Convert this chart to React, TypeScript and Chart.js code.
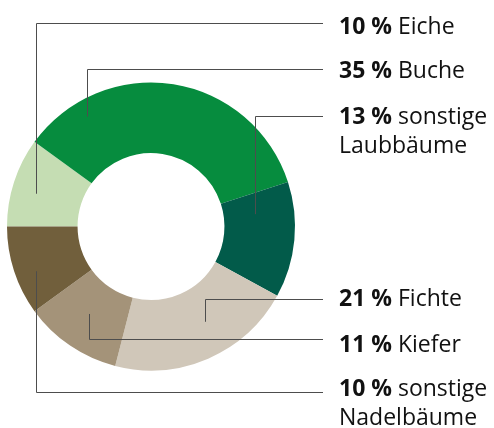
import React, { useEffect, useRef } from "react";
import { Chart, registerables } from "chart.js";

Chart.register(...registerables);

const categories = ["Eiche", "Buche", "sonstige Laubbäume", "Fichte", "Kiefer", "sonstige Nadelbäume"];
const shares = [10, 35, 13, 21, 11, 10];
const firstLines = ["Eiche", "Buche", "sonstige", "Fichte", "Kiefer", "sonstige"];
const secondLines = ["", "", "Laubbäume", "", "", "Nadelbäume"];
const colors = ["#c5ddb3", "#068c3e", "#025b4a", "#d0c7b9", "#a49379", "#715f3c"];

// layout of leader lines / labels
const anchorT = [0.44, 0.19, 0.24, 0.42, 0.53, 0.41];
const anchorR = [0.66, 0.76, 0.44, 0.51, 0.48, 0.71];
const leaderY = [23.5, 69.5, 116.5, 299.5, 339.5, 392.5];
const baselineY = [33.5, 77.5, 123.5, 306, 351.5, 396];
const LINE_END_X = 323;
const TEXT_X = 339;
const LINE_GAP = 29;
const FONT = '"Open Sans", sans-serif';
const FONT_SIZE = 23;

const leaderPlugin = {
  id: "leaders",
  afterDraw(chart: any) {
    const ctx = chart.ctx;
    const meta = chart.getDatasetMeta(0);
    ctx.save();
    meta.data.forEach((arc: any, i: number) => {
      const p = arc.getProps(["x", "y", "startAngle", "endAngle", "innerRadius", "outerRadius"], true);
      const a = p.startAngle + anchorT[i] * (p.endAngle - p.startAngle);
      const r = p.innerRadius + anchorR[i] * (p.outerRadius - p.innerRadius);
      const ax = Math.round(p.x + r * Math.cos(a)) + 0.5;
      const ay = p.y + r * Math.sin(a);
      ctx.beginPath();
      ctx.strokeStyle = "#4d4d4d";
      ctx.lineWidth = 1;
      ctx.moveTo(ax, ay);
      ctx.lineTo(ax, leaderY[i]);
      ctx.lineTo(LINE_END_X, leaderY[i]);
      ctx.stroke();

      ctx.fillStyle = "#111";
      ctx.textBaseline = "alphabetic";
      ctx.textAlign = "left";
      const num = `${shares[i]} %`;
      ctx.font = `bold ${FONT_SIZE}px ${FONT}`;
      ctx.fillText(num, TEXT_X, baselineY[i]);
      const w = ctx.measureText(num + " ").width;
      ctx.font = `${FONT_SIZE}px ${FONT}`;
      ctx.fillText(firstLines[i], TEXT_X + w, baselineY[i]);
      if (secondLines[i]) ctx.fillText(secondLines[i], TEXT_X, baselineY[i] + LINE_GAP);
    });
    ctx.restore();
  },
};

export default function App() {
  const ref = useRef<HTMLCanvasElement>(null);
  useEffect(() => {
    if (!ref.current) return;
    const chart = new Chart(ref.current, {
      type: "doughnut",
      data: {
        labels: categories,
        datasets: [
          {
            data: shares,
            backgroundColor: colors,
            borderWidth: 0,
          },
        ],
      },
      options: {
        responsive: false,
        animation: false,
        rotation: -90,
        cutout: "51%",
        layout: { padding: { left: 7, top: 82.5, right: 199, bottom: 57.5 } },
        plugins: { legend: { display: false }, tooltip: { enabled: false } },
      },
      plugins: [leaderPlugin],
    });
    return () => chart.destroy();
  }, []);
  return (
    <div style={{ position: "fixed", left: 0, top: 0, width: 494, height: 428, background: "#fff" }}>
      <canvas ref={ref} width={494} height={428} style={{ width: 494, height: 428 }} />
    </div>
  );
}
